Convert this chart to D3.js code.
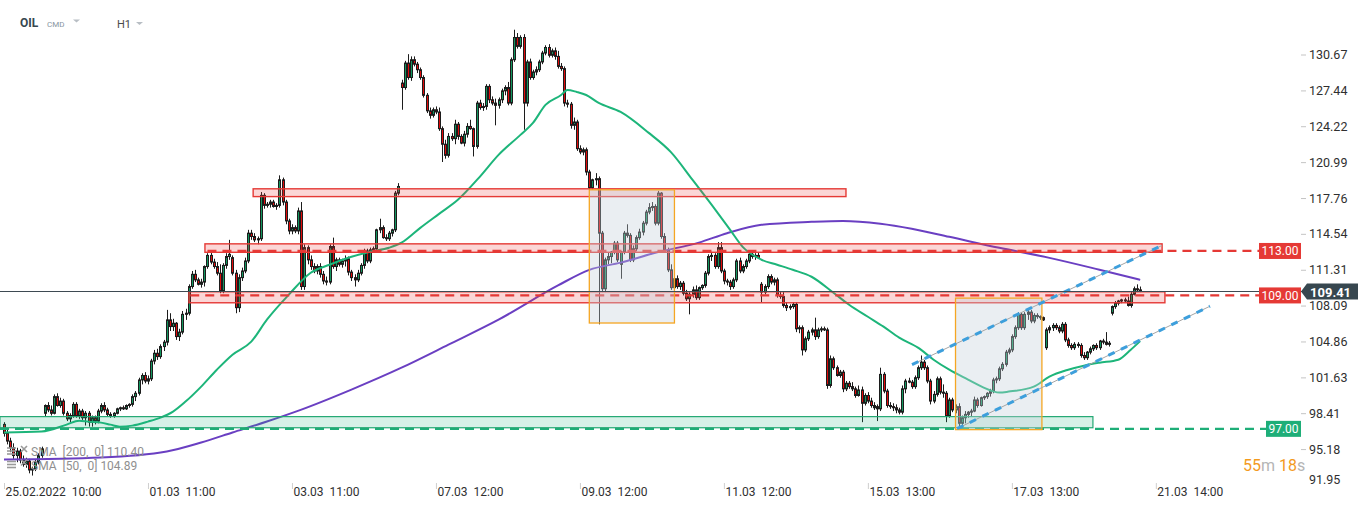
<!DOCTYPE html>
<html><head><meta charset="utf-8">
<script src="https://cdn.jsdelivr.net/npm/d3@7"></script>
<style>
html,body{margin:0;padding:0;background:#fff;overflow:hidden;}
svg{display:block;font-family:Roboto,"Noto Sans",Arial,sans-serif;}
</style></head><body>
<svg id="c" width="1368" height="509"></svg>
<script>
// ---------------- data ----------------
const symbolName = "OIL", marketName = "CMD", intervalName = "H1";
const timeTicks = [0,46,92,138,184,230,276,322,368];
const timeLabels = ["25.02.2022  10:00","01.03  11:00","03.03  11:00","07.03  12:00","09.03  12:00","11.03  12:00","15.03  13:00","17.03  13:00","21.03  14:00"];
const priceTicks = [91.95,95.18,98.41,101.63,104.86,108.09,111.31,114.54,117.76,120.99,124.22,127.44,130.67];
// OHLC per hourly candle [open, high, low, close]
const candles = [
[97.4,97.6,96.3,96.6],[96.6,96.9,95.6,95.9],[95.9,96.2,94.9,95.3],[95.3,95.7,94.3,94.6],[94.6,95.3,94.0,95.0],
[95.0,95.2,93.9,94.2],[94.2,94.6,93.6,93.8],[93.8,94.4,93.5,94.1],[94.1,94.3,93.0,93.3],[93.3,93.6,92.8,93.4],
[93.4,94.2,93.2,94.0],[94.0,94.8,93.8,94.6],[94.6,95.4,94.4,95.2],[98.4,99.2,98.1,99.1],[99.1,99.4,98.5,98.7],
[98.7,99.1,98.2,98.4],[98.4,100.1,98.3,99.9],[99.9,100.2,99.0,99.1],[99.1,99.8,98.9,99.5],[99.5,99.7,98.2,98.4],
[98.4,98.6,97.7,97.9],[97.9,98.4,97.6,98.2],[98.2,99.4,98.0,99.2],[99.2,99.4,98.0,98.2],[98.2,98.8,97.9,98.6],
[98.6,98.8,97.8,98.0],[98.0,98.6,97.3,98.4],[98.4,98.6,97.2,97.6],[97.6,98.2,97.2,98.0],[98.0,98.2,97.4,97.7],
[97.7,98.8,97.5,98.6],[98.6,99.3,98.4,99.1],[99.1,99.4,98.5,98.7],[98.7,98.9,98.1,98.3],[98.3,98.5,98.0,98.2],
[98.2,98.5,98.0,98.4],[98.4,98.9,98.3,98.8],[98.8,99.0,98.6,98.9],[98.9,99.1,98.7,98.8],[98.8,99.2,98.7,99.1],
[99.1,99.3,98.9,99.2],[99.2,100.1,99.0,99.9],[99.9,100.4,99.5,100.2],[100.2,101.6,100.0,101.4],[101.4,102.0,101.0,101.8],
[101.8,102.1,101.1,101.3],[101.3,101.8,101.0,101.5],[101.5,103.3,101.3,103.1],[103.1,104.1,102.8,103.8],[103.8,104.2,103.2,103.5],
[103.5,104.6,103.3,104.4],[104.4,105.0,104.0,104.8],[104.8,107.7,104.5,106.8],[106.8,107.4,105.8,106.2],[106.2,106.9,105.8,106.5],
[106.5,106.6,105.0,105.3],[105.3,106.0,104.9,105.7],[105.7,107.6,105.5,107.3],[107.3,107.8,106.8,107.4],[107.4,110.0,107.2,109.8],
[109.8,111.2,109.6,110.9],[110.9,111.3,110.2,110.4],[110.4,110.6,109.9,110.0],[110.0,110.5,109.7,110.2],[110.2,111.7,109.8,111.6],
[111.6,112.8,111.4,112.6],[112.6,112.9,111.8,112.0],[112.0,112.3,111.4,111.6],[111.6,112.0,110.8,111.0],[111.0,111.8,109.2,109.4],
[109.4,111.9,109.2,111.7],[111.7,112.8,111.4,112.5],[112.5,114.0,112.2,112.7],[112.4,112.6,110.8,111.0],[111.0,111.3,107.4,107.9],
[107.9,110.9,107.5,110.6],[110.6,111.5,110.3,111.2],[111.2,112.4,111.0,112.1],[112.1,114.9,111.9,114.6],[114.6,114.9,114.0,114.3],
[114.3,114.6,113.8,114.0],[114.0,114.3,113.6,114.1],[114.1,118.3,113.9,118.0],[118.0,118.2,116.8,117.1],[117.1,117.4,116.9,117.2],
[117.2,117.6,116.9,117.4],[117.4,117.6,116.9,117.0],[117.0,117.3,116.7,117.1],[117.1,119.8,116.9,119.4],[119.4,119.6,117.1,117.4],
[117.4,117.6,115.4,115.7],[115.7,115.9,114.5,114.8],[114.8,115.4,114.5,115.1],[115.1,115.3,114.6,114.8],[114.8,116.9,114.5,116.6],
[116.6,117.4,109.5,109.8],[109.8,113.6,109.5,113.3],[113.3,113.5,111.8,112.2],[112.2,112.6,111.3,111.6],[111.6,111.9,111.0,111.2],
[111.2,111.8,110.9,111.6],[111.6,111.9,110.6,110.9],[110.9,111.2,110.0,110.3],[110.3,110.7,109.9,110.2],[110.2,113.6,110.0,113.4],
[113.4,114.2,111.4,111.6],[111.6,112.4,111.2,112.2],[112.2,112.4,111.6,111.8],[111.8,112.3,111.5,112.1],[112.1,112.6,111.6,112.3],
[112.3,112.5,110.8,111.1],[111.1,111.3,110.3,110.6],[110.6,110.9,109.8,110.4],[110.4,111.3,110.2,111.0],[111.0,111.9,110.8,111.7],
[111.7,113.2,111.4,113.0],[113.0,113.2,111.9,112.1],[112.1,113.3,111.9,113.1],[113.1,113.4,112.9,113.2],[113.2,115.0,113.0,114.9],
[114.9,115.9,114.6,115.1],[115.1,115.3,114.1,114.2],[114.2,114.5,113.9,114.1],[114.1,114.8,113.9,114.6],[114.6,115.0,114.3,114.9],
[114.9,118.4,114.7,118.2],[118.2,119.1,118.0,118.8],[128.1,128.4,125.7,127.7],[127.7,130.1,127.5,129.9],[129.9,130.7,128.4,128.6],
[128.6,130.5,128.3,130.2],[130.2,130.5,129.6,129.8],[129.8,130.0,129.0,129.3],[129.3,129.5,128.4,128.6],[128.6,128.8,126.8,127.0],
[127.0,127.2,125.4,125.6],[125.6,125.9,124.9,125.2],[125.2,125.9,125.0,125.7],[125.7,126.0,125.3,125.5],[125.5,125.9,123.8,124.0],
[124.0,124.2,121.0,122.6],[122.6,123.0,121.3,121.6],[121.6,123.6,121.4,123.3],[123.3,123.6,122.9,123.1],[123.1,124.8,122.6,124.4],
[124.4,124.6,123.0,123.3],[123.3,123.5,122.6,122.7],[122.7,123.8,122.4,123.5],[123.5,124.5,123.2,124.2],[124.2,124.8,123.9,124.0],
[124.0,124.1,121.5,122.4],[122.4,126.5,122.2,126.3],[126.3,126.6,125.7,125.9],[125.9,126.3,125.6,126.0],[126.0,128.0,125.7,127.8],
[127.8,128.0,126.3,126.6],[126.6,126.9,126.1,126.3],[126.3,126.7,124.3,126.1],[126.1,126.8,125.8,126.6],[126.6,127.6,126.3,127.4],
[127.4,127.9,127.0,127.7],[127.7,128.2,126.1,126.3],[126.3,130.4,126.1,130.2],[130.2,132.9,130.0,132.2],[132.2,132.6,131.2,131.4],
[131.4,132.4,131.2,132.2],[132.2,132.5,123.9,126.3],[126.3,130.2,126.0,130.0],[130.0,130.3,128.4,128.6],[128.6,129.3,128.4,129.1],
[129.1,129.6,128.8,129.3],[129.3,130.2,129.1,130.0],[130.0,131.0,129.8,130.8],[130.8,131.5,130.6,131.3],[131.3,131.6,130.4,130.6],
[130.6,131.2,130.4,131.0],[131.0,131.3,130.2,130.5],[130.5,131.0,129.4,129.6],[129.6,129.9,129.2,129.4],[129.4,129.6,126.0,126.3],
[126.3,126.6,125.9,126.2],[126.2,126.4,124.0,124.3],[124.3,125.0,123.9,124.6],[124.6,124.8,122.0,122.2],[122.2,122.5,121.7,121.9],
[121.9,122.3,121.6,122.1],[122.1,122.3,119.8,120.1],[120.1,120.3,118.4,118.7],[118.7,119.5,118.5,119.4],[119.4,120.0,118.9,119.5],
[119.5,119.7,106.4,114.6],[114.6,114.8,109.3,109.6],[109.6,112.4,109.3,112.2],[112.2,112.9,111.8,112.5],[112.5,113.0,111.9,112.9],
[112.9,113.9,112.7,113.7],[113.7,113.9,112.0,112.2],[111.8,113.0,110.5,112.9],[112.9,114.8,112.7,114.6],[114.6,115.4,114.2,114.4],
[114.4,114.6,112.0,112.2],[112.2,113.5,112.0,113.2],[113.2,114.4,113.0,114.2],[114.2,115.0,114.0,114.7],[114.7,115.7,114.4,115.5],
[115.5,116.7,115.3,116.5],[116.5,117.3,116.3,116.9],[116.9,117.4,116.6,117.0],[117.0,117.2,115.3,115.5],[115.5,118.4,115.3,118.2],
[118.2,118.3,114.1,114.3],[114.3,114.6,112.9,113.1],[113.1,113.3,111.1,111.3],[111.3,111.8,109.5,109.7],[109.7,110.7,109.4,110.5],
[110.5,110.8,109.6,109.8],[109.8,110.3,109.5,110.1],[110.1,110.3,109.0,109.2],[109.2,109.5,108.5,108.7],[108.7,109.3,107.3,109.1],
[109.1,109.8,108.8,109.5],[109.5,109.9,108.6,108.8],[108.8,109.8,108.6,109.7],[109.7,110.0,109.5,109.9],[109.9,111.2,109.7,111.0],
[111.0,112.7,110.8,112.5],[112.5,112.9,112.1,112.6],[112.6,112.8,111.4,111.6],[111.6,113.8,111.4,113.3],[113.3,113.8,111.0,111.2],
[111.2,111.4,110.0,110.3],[110.3,110.5,109.9,110.2],[110.2,110.4,109.5,109.8],[109.8,110.6,109.6,110.4],[110.4,112.3,110.2,112.1],
[112.1,112.4,111.0,111.2],[111.2,111.8,111.0,111.6],[111.6,112.3,111.4,112.1],[112.1,112.9,111.9,112.7],[112.7,113.0,112.3,112.5],
[112.5,112.8,112.2,112.6],[112.6,112.9,112.3,112.4],[110.0,110.2,108.4,109.3],[109.3,110.0,109.1,109.8],[109.8,110.9,109.6,110.7],
[110.7,110.9,110.0,110.2],[110.2,110.6,109.9,110.4],[110.4,110.6,108.8,109.0],[109.0,109.4,108.7,108.9],[108.9,109.3,107.9,108.1],
[108.1,108.4,107.6,107.9],[107.9,108.2,107.7,108.0],[108.0,108.4,107.8,108.2],[108.2,108.4,105.7,106.0],[106.0,106.3,105.6,106.1],
[106.1,106.3,103.6,104.1],[104.1,105.3,103.9,105.1],[105.1,105.9,104.9,105.7],[105.7,106.1,105.4,105.9],[105.9,107.0,105.0,105.3],
[105.3,106.1,105.1,105.9],[105.9,106.2,105.7,106.0],[106.0,106.2,105.8,105.9],[105.9,106.1,100.6,100.9],[100.9,103.6,100.7,103.3],
[103.3,103.5,102.3,102.5],[102.5,102.7,101.7,101.8],[101.8,102.3,101.6,102.1],[102.1,102.3,100.3,100.6],[100.6,101.3,100.4,101.1],
[101.1,101.3,100.6,100.8],[100.8,101.2,100.4,100.6],[100.6,100.8,99.8,100.0],[100.0,100.9,99.9,100.5],[100.5,100.8,97.6,99.3],
[99.3,100.2,99.1,100.0],[100.0,100.3,99.3,99.5],[99.5,99.8,98.9,99.1],[99.1,99.4,98.7,98.9],[99.0,99.2,97.7,98.8],
[98.8,102.5,98.6,101.9],[101.9,102.1,100.2,100.4],[100.4,100.6,98.9,99.1],[99.1,99.4,98.8,99.0],[99.0,99.3,98.6,98.9],
[98.9,99.2,98.4,98.7],[98.7,98.9,98.3,98.5],[98.5,100.9,98.3,100.6],[100.6,101.5,100.2,101.3],[101.3,101.6,101.1,101.2],
[101.2,101.4,100.6,100.8],[100.8,101.8,100.6,101.6],[101.6,102.7,101.4,102.5],[102.5,103.6,102.3,103.0],[103.0,103.2,102.3,102.5],
[102.5,102.7,101.1,101.3],[101.3,101.5,99.2,99.5],[99.5,100.4,99.3,100.1],[100.1,101.7,99.9,101.5],[101.5,101.7,100.1,100.3],
[100.3,101.0,99.8,100.2],[100.2,100.4,97.6,98.2],[98.2,99.8,98.0,99.6],[99.6,99.8,98.5,98.7],[98.7,99.2,98.4,99.0],
[99.0,99.3,97.0,97.5],[97.5,98.2,97.0,98.0],[98.0,98.6,97.5,98.3],[98.3,98.6,98.0,98.5],[98.5,98.8,98.1,98.6],
[98.6,99.9,98.5,99.6],[99.6,99.8,98.9,99.1],[99.1,99.9,99.0,99.8],[99.8,100.0,99.6,99.9],[99.9,100.3,99.7,100.2],
[100.2,100.6,99.9,100.4],[100.4,101.6,100.2,101.4],[101.4,101.7,101.1,101.5],[101.5,102.6,101.3,102.4],[102.4,103.0,102.2,102.8],
[102.8,104.1,102.6,103.9],[103.9,104.3,103.7,104.1],[104.1,105.5,103.9,105.3],[105.3,106.3,105.1,106.1],[106.1,107.5,105.9,107.3],
[107.3,107.5,105.9,106.1],[106.1,107.5,105.9,107.3],[107.3,107.7,106.8,107.5],[107.5,107.7,106.5,106.7],[106.7,107.4,106.5,107.2],
[107.2,107.4,106.9,107.1],[107.1,107.2,106.8,107.0],[107.0,107.1,106.7,106.8],[104.3,106.1,104.1,105.9],[105.9,106.3,105.6,106.1],
[106.1,106.5,105.8,106.3],[106.3,106.5,105.9,106.1],[106.1,106.3,105.6,105.8],[105.8,106.6,105.6,106.4],[106.4,106.6,104.8,105.0],
[105.0,105.2,104.3,104.5],[104.5,104.7,104.1,104.3],[104.3,104.8,104.1,104.6],[104.6,104.8,104.3,104.5],[104.5,104.7,103.4,103.6],
[103.6,103.9,103.2,103.4],[103.4,104.0,103.2,103.9],[103.9,104.4,103.7,104.2],[104.2,104.6,104.0,104.5],[104.5,104.7,104.1,104.3],
[104.3,105.0,104.1,104.9],[104.9,105.1,104.6,104.8],[104.8,105.7,104.5,104.6],[104.6,104.9,104.4,104.7],[107.4,108.1,107.2,108.0],
[108.0,108.5,107.8,108.3],[108.3,108.6,108.1,108.5],[108.5,108.7,108.3,108.6],[108.6,108.8,108.4,108.5],[108.5,108.9,108.0,108.1],
[108.1,109.3,107.9,109.1],[109.1,109.8,109.0,109.6],[109.6,110.0,109.3,109.5],[109.5,109.8,109.3,109.41]
];
// moving averages: [candle index, value]
const sma200 = [[0,94.24],[31,94.42],[52,94.96],[63,95.77],[73,96.67],[84,97.66],[95,98.73],[111,100.53],[127,102.5],[142,104.57],[158,106.82],[177,109.9],[187,111.3],[197,111.95],[209,112.9],[222,113.75],[231,114.6],[242,115.35],[258,115.62],[268,115.7],[280,115.45],[290,115.0],[302,114.27],[318,113.28],[334,112.38],[350,111.31],[363,110.40]];
const sma50 = [[0,96.67],[12,96.76],[20,97.38],[24,97.74],[27,97.65],[31,97.56],[34,97.38],[37,97.2],[41,97.29],[46,97.65],[50,98.01],[54,98.55],[58,99.45],[63,100.8],[68,102.32],[73,103.67],[79,104.84],[84,106.82],[91,109.07],[98,111.04],[104,111.76],[111,112.48],[117,112.93],[123,113.29],[127,113.74],[133,115.08],[139,116.34],[145,117.6],[152,119.67],[158,121.64],[165,123.44],[169,124.52],[173,126.14],[178,127.03],[180,127.48],[183,127.3],[186,127.03],[190,126.31],[197,125.5],[206,123.62],[213,121.91],[220,119.39],[228,116.43],[232,114.9],[236,113.37],[242,112.21],[247,111.76],[252,111.31],[258,110.68],[265,109.24],[270,108.16],[276,107.08],[281,106.19],[286,105.2],[292,104.3],[297,103.22],[302,102.32],[308,101.43],[313,100.71],[318,100.26],[321,100.35],[329,100.8],[334,101.7],[340,102.32],[345,102.68],[350,102.95],[356,103.22],[360,104.12],[363,104.89]];
const smaLegend = ["SMA  [200,  0] 110.40","SMA  [50,  0] 104.89"];
// annotations (index range, price range)
const redZones = [[79.6,269,118.59,117.89],[64.2,370,113.64,112.88],[59.1,370.9,109.33,108.34]];
const greenZones = [[-1.3,347.9,98.10,97.10]];
const timeBoxes = [[187,214.2,118.5,106.52],[304,331.6,108.76,96.93]];
const levelValues = [113.00,109.00,97.00];
const levelStarts = [65,59.5,-1.3];
const trendLines = [[290.1,102.77,370,113.5],[304.5,97.02,385.3,108.03]];
const lastPrice = 109.41;
const countdown = ["55","m"," 18","s"];

// ---------------- drawing ----------------
const svg = d3.select("#c");
const x = d3.scaleLinear().domain([0,368]).range([4, 4+368*3.13]);
const y = d3.scaleLinear().domain([91.95,130.67]).range([485,54.5]);
const RED="#e53935", GREEN="#1eae78";

// candles
const cg = svg.append("g");
cg.selectAll("line").data(candles).join("line")
  .attr("x1",(d,i)=>Math.round(x(i))+0.5).attr("x2",(d,i)=>Math.round(x(i))+0.5)
  .attr("y1",d=>y(d[1])).attr("y2",d=>y(d[2]))
  .attr("stroke","#1c1c1c").attr("stroke-width",1);
cg.selectAll("rect").data(candles).join("rect")
  .attr("x",(d,i)=>Math.round(x(i))-0.5).attr("width",2)
  .attr("y",d=>y(Math.max(d[0],d[3])))
  .attr("height",d=>Math.max(1,Math.abs(y(d[0])-y(d[3]))))
  .attr("fill",d=>d[3]>=d[0]?"#13965f":"#e00b0b")
  .attr("stroke","#1c1c1c").attr("stroke-width",1);

// SMA lines
const line = d3.line().x(d=>x(d[0])).y(d=>y(d[1])).curve(d3.curveMonotoneX);
svg.append("path").datum(sma200).attr("d",line).attr("fill","none").attr("stroke","#6a3fc2").attr("stroke-width",2);
svg.append("path").datum(sma50).attr("d",line).attr("fill","none").attr("stroke","#1db57a").attr("stroke-width",2);

// dashed level lines (under zones)
const labelLeft = [1259,1259,1266];
levelValues.forEach((v,k)=>{
  svg.append("line").attr("x1",Math.max(0,x(levelStarts[k]))).attr("x2",labelLeft[k])
    .attr("y1",y(v)).attr("y2",y(v))
    .attr("stroke",k<2?RED:GREEN).attr("stroke-width",2.2).attr("stroke-dasharray","9,6");
});

// zones
svg.append("g").selectAll("rect").data(redZones).join("rect")
  .attr("x",d=>x(d[0])).attr("width",d=>x(d[1])-x(d[0]))
  .attr("y",d=>y(d[2])).attr("height",d=>y(d[3])-y(d[2]))
  .attr("fill","rgba(236,62,62,0.21)").attr("stroke",RED).attr("stroke-width",1.4);
svg.append("g").selectAll("rect").data(greenZones).join("rect")
  .attr("x",d=>x(d[0])).attr("width",d=>x(d[1])-x(d[0]))
  .attr("y",d=>y(d[2])).attr("height",d=>y(d[3])-y(d[2]))
  .attr("fill","rgba(30,180,120,0.18)").attr("stroke","#23a873").attr("stroke-width",1.2);
svg.append("g").selectAll("rect").data(timeBoxes).join("rect")
  .attr("x",d=>x(d[0])).attr("width",d=>x(d[1])-x(d[0]))
  .attr("y",d=>y(d[2])).attr("height",d=>y(d[3])-y(d[2]))
  .attr("fill","rgba(196,207,218,0.36)").attr("stroke","#f5a623").attr("stroke-width",1.3);

// trend lines
trendLines.forEach(t=>{
  svg.append("line").attr("x1",x(t[0])).attr("y1",y(t[1])).attr("x2",x(t[2])).attr("y2",y(t[3]))
    .attr("stroke","#a5a5a5").attr("stroke-width",1);
  svg.append("line").attr("x1",x(t[0])).attr("y1",y(t[1])).attr("x2",x(t[2])).attr("y2",y(t[3]))
    .attr("stroke","#3d9fdc").attr("stroke-width",3).attr("stroke-dasharray","7,7");
});

// last price line
svg.append("line").attr("x1",0).attr("x2",1302).attr("y1",Math.round(y(lastPrice))+0.5).attr("y2",Math.round(y(lastPrice))+0.5)
  .attr("stroke","#3e4a52").attr("stroke-width",1);

// y axis
const ya = svg.append("g").attr("transform","translate(1301,0)")
  .call(d3.axisRight(y).tickValues(priceTicks).tickSize(5).tickPadding(3).tickFormat(d3.format(".2f")));
ya.select(".domain").remove();
ya.selectAll(".tick line").attr("stroke","#c4c4c4");
ya.selectAll(".tick text").attr("fill","#2f2f2f").style("font-size","12.5px").style("font-family","Roboto,Arial,sans-serif");
ya.selectAll(".tick").each(function(d){
  if (y(d) > 480) { d3.select(this).attr("transform","translate(0,480)"); d3.select(this).select("line").remove(); }
});

// x axis
const xa = svg.append("g").attr("transform","translate(0,483)")
  .call(d3.axisBottom(x).tickValues(timeTicks).tickSize(6).tickFormat((d,i)=>timeLabels[i]));
xa.select(".domain").remove();
xa.selectAll(".tick line").attr("stroke","#cfcfcf");
xa.selectAll(".tick text").attr("text-anchor","start").attr("x",1).attr("y",13).attr("dy",0)
  .attr("fill","#2f2f2f").style("font-size","12px").style("white-space","pre").style("font-family","Roboto,Arial,sans-serif");

// level labels
const lvlW = [42,42,35];
levelValues.forEach((v,k)=>{
  const yy = y(v);
  svg.append("rect").attr("x",labelLeft[k]).attr("y",yy-8).attr("width",lvlW[k]).attr("height",16).attr("fill",k<2?RED:GREEN);
  svg.append("text").attr("x",labelLeft[k]+lvlW[k]/2).attr("y",yy+4.5).attr("text-anchor","middle")
    .attr("fill","#fff").style("font-size","12px").text(d3.format(".2f")(v));
});
// last price label
const ly = Math.round(y(lastPrice))+0.5;
svg.append("path").attr("d",`M1301,${ly} L1307,${ly-8} L1358,${ly-8} L1358,${ly+8} L1307,${ly+8} Z`).attr("fill","#37474f");
svg.append("text").attr("x",1310).attr("y",ly+5).attr("fill","#fff").style("font-size","13px").style("font-weight","bold").text(d3.format(".2f")(lastPrice));

// countdown
const ct = svg.append("text").attr("x",1243).attr("y",471).style("font-size","16px");
countdown.forEach((s,k)=>ct.append("tspan").text(s).attr("fill",k%2===0?"#f39a1e":"#b5b5b5").style("white-space","pre"));

// header
svg.append("text").attr("x",20).attr("y",27).text(symbolName).attr("fill","#37474f").style("font-size","12px").style("font-weight","bold");
svg.append("text").attr("x",47).attr("y",27).text(marketName).attr("fill","#8795a1").style("font-size","8px");
svg.append("path").attr("d","M73,19.5 L80,19.5 L76.5,22.5 Z").attr("fill","#b8bec4");
svg.append("text").attr("x",117).attr("y",27.5).text(intervalName).attr("fill","#4a4a4a").style("font-size","11px");
svg.append("path").attr("d","M136,22 L143,22 L139.5,25 Z").attr("fill","#b8bec4");

// legend
smaLegend.forEach((s,k)=>{
  const by = 456 + k*13.5;
  svg.append("text").attr("x",31).attr("y",by).text(s).attr("fill","#8f8f8f").style("font-size","12px").style("white-space","pre");
  const ig = svg.append("g").attr("stroke","#9a9a9a").attr("stroke-width",1.6);
  [ -8, -5, -2 ].forEach(o=>ig.append("line").attr("x1",7).attr("x2",16).attr("y1",by+o).attr("y2",by+o));
  ig.append("line").attr("x1",21).attr("x2",27).attr("y1",by-10).attr("y2",by-4);
  ig.append("line").attr("x1",27).attr("x2",21).attr("y1",by-10).attr("y2",by-4);
});
</script>
</body></html>
